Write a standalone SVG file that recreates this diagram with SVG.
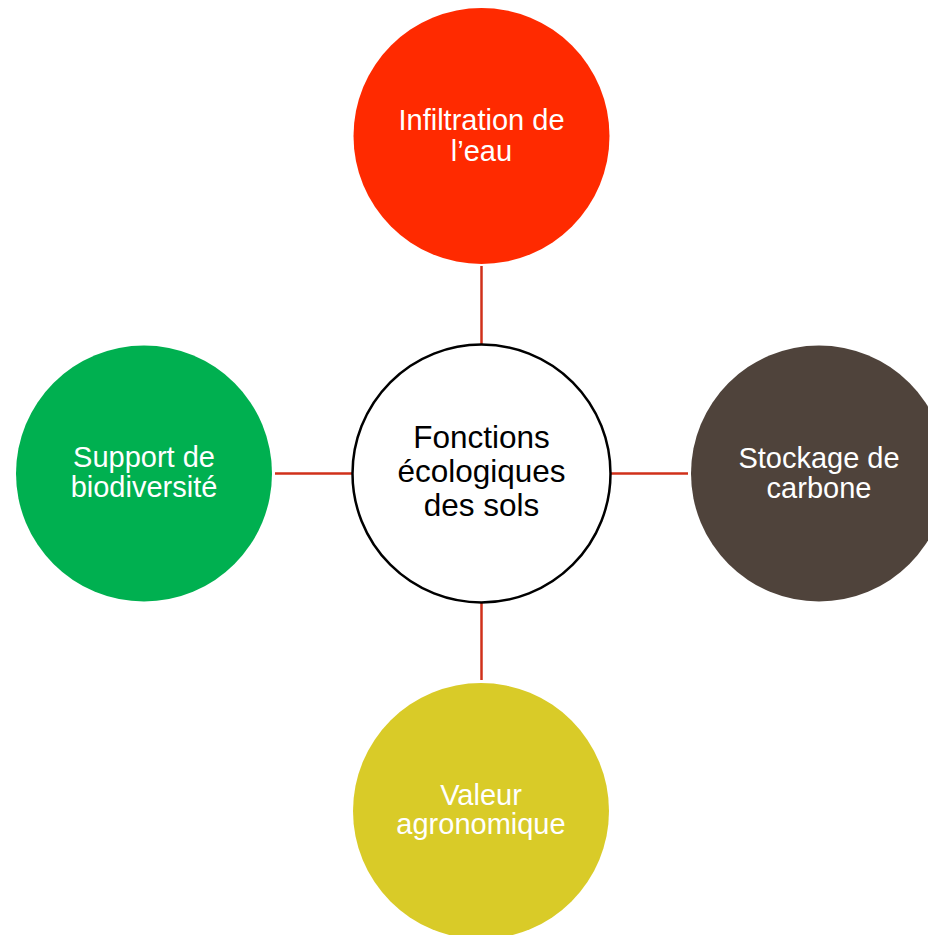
<svg xmlns="http://www.w3.org/2000/svg" width="928" height="935" viewBox="0 0 928 935">
<style>
.lbl{font-family:"Liberation Sans",Arial,sans-serif;font-size:29px;fill:#ffffff;text-anchor:middle}
.ctr{font-family:"Liberation Sans",Arial,sans-serif;font-size:31.5px;fill:#000000;text-anchor:middle}
.conn{stroke:#d0301a;stroke-width:2.5;fill:none}
</style>
<rect width="928" height="935" fill="#ffffff"/>
<g id="connectors">
<line class="conn" x1="481.5" y1="266" x2="481.5" y2="344"/>
<line class="conn" x1="481.5" y1="603" x2="481.5" y2="680"/>
<line class="conn" x1="275" y1="473.5" x2="352" y2="473.5"/>
<line class="conn" x1="611" y1="473.5" x2="688" y2="473.5"/>
</g>
<g id="node-center">
<circle cx="481.5" cy="473.5" r="129" fill="#ffffff" stroke="#000000" stroke-width="2.5"/>
<text class="ctr" x="481.5" y="448">Fonctions</text>
<text class="ctr" x="481.5" y="482">écologiques</text>
<text class="ctr" x="481.5" y="516">des sols</text>
</g>
<g id="node-infiltration">
<circle cx="481.5" cy="136" r="128" fill="#ff2a00"/>
<text class="lbl" x="481.5" y="130">Infiltration de</text>
<text class="lbl" x="481.5" y="161">l’eau</text>
</g>
<g id="node-biodiversite">
<circle cx="144" cy="473.5" r="128" fill="#00b050"/>
<text class="lbl" x="144" y="467">Support de</text>
<text class="lbl" x="144" y="497">biodiversité</text>
</g>
<g id="node-carbone">
<circle cx="819" cy="473.5" r="128" fill="#4f433b"/>
<text class="lbl" x="819" y="467.5">Stockage de</text>
<text class="lbl" x="819" y="497.5">carbone</text>
</g>
<g id="node-agronomique">
<circle cx="481" cy="811" r="128" fill="#d9cb28"/>
<text class="lbl" x="481" y="805">Valeur</text>
<text class="lbl" x="481" y="834">agronomique</text>
</g>
</svg>
